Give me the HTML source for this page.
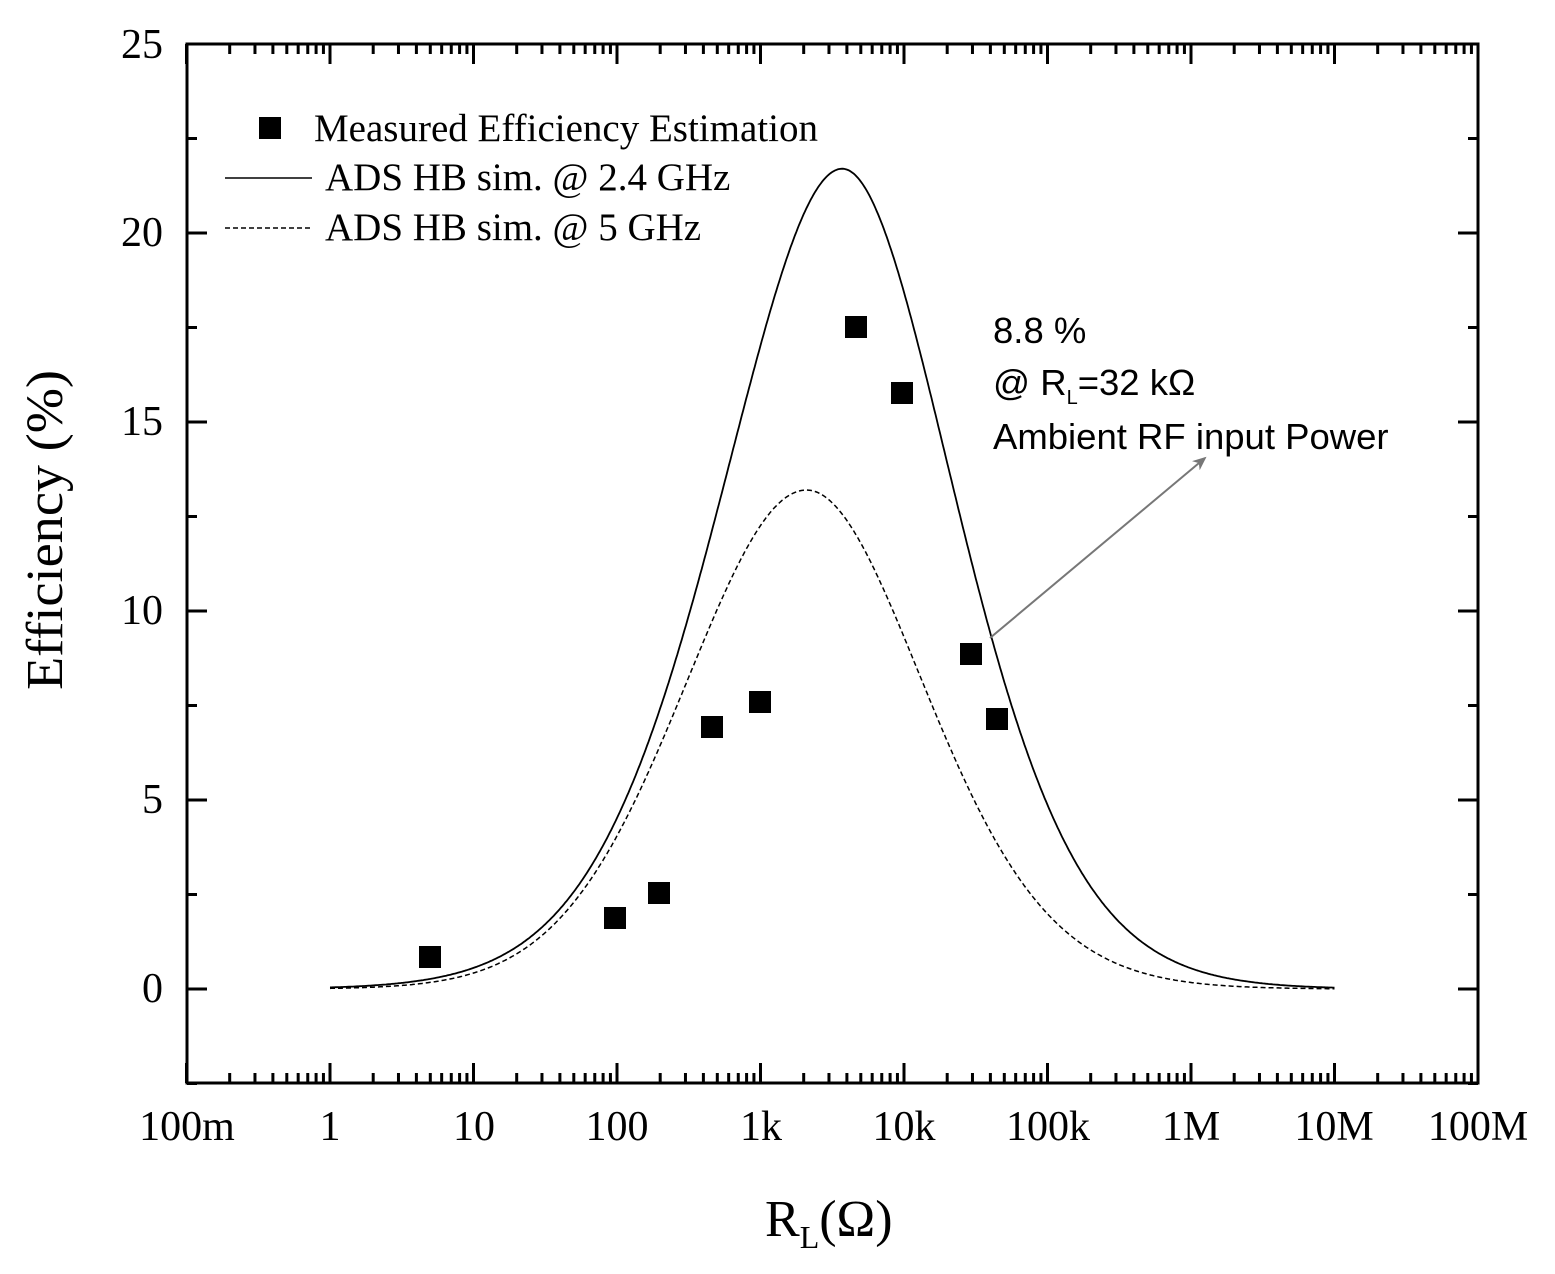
<!DOCTYPE html>
<html><head><meta charset="utf-8"><style>
html,body{margin:0;padding:0;background:#fff;}
svg{display:block;}
.t{font-family:"Liberation Serif",serif;fill:#000;}
.a{font-family:"Liberation Sans",sans-serif;fill:#000;}
</style></head><body>
<svg id="s" width="1555" height="1274" viewBox="0 0 1555 1274" xmlns="http://www.w3.org/2000/svg">
<defs><marker id="ar" markerWidth="14" markerHeight="12" refX="12" refY="6" orient="auto" markerUnits="userSpaceOnUse"><path d="M0,0 L14,6 L0,12 L4,6 z" fill="#777"/></marker></defs>
<g id="ticks" stroke="#000" stroke-width="3"></g>
<rect x="187" y="44" width="1291" height="1039" fill="none" stroke="#000" stroke-width="3"/>
<path id="solid" fill="none" stroke="#000" stroke-width="1.8"/>
<path id="dash" fill="none" stroke="#000" stroke-width="1.5" stroke-dasharray="5,3"/>
<g id="mk" fill="#000"></g>
<g class="t" font-size="42" text-anchor="end">
<text x="163" y="58">25</text><text x="163" y="246">20</text><text x="163" y="435">15</text>
<text x="163" y="624">10</text><text x="163" y="813">5</text><text x="163" y="1002">0</text>
</g>
<g class="t" font-size="42" text-anchor="middle">
<text x="187" y="1140">100m</text><text x="330" y="1140">1</text><text x="474" y="1140">10</text>
<text x="617" y="1140">100</text><text x="761" y="1140">1k</text><text x="904" y="1140">10k</text>
<text x="1048" y="1140">100k</text><text x="1191" y="1140">1M</text><text x="1334" y="1140">10M</text>
<text x="1478" y="1140">100M</text>
</g>
<text class="t" font-size="52" x="765" y="1236">R<tspan font-size="32" dy="12">L</tspan><tspan dy="-12">(Ω)</tspan></text>
<text class="t" font-size="52" transform="translate(62,530) rotate(-90)" text-anchor="middle" textLength="320" lengthAdjust="spacingAndGlyphs">Efficiency (%)</text>
<rect x="259" y="117" width="22" height="22" fill="#000"/>
<text class="t" font-size="39" x="314" y="141">Measured Efficiency Estimation</text>
<line x1="225" y1="178" x2="312" y2="178" stroke="#000" stroke-width="1.6"/>
<text class="t" font-size="39" x="325" y="190">ADS HB sim. @ 2.4 GHz</text>
<line x1="225" y1="228" x2="312" y2="228" stroke="#000" stroke-width="1.4" stroke-dasharray="5,3"/>
<text class="t" font-size="39" x="325" y="240">ADS HB sim. @ 5 GHz</text>
<g class="a" font-size="36.5">
<text x="993" y="343">8.8 %</text>
<text x="993" y="395">@ R<tspan font-size="20" dy="9">L</tspan><tspan dy="-9">=32 kΩ</tspan></text>
<text x="993" y="449">Ambient RF input Power</text>
</g>
<line x1="990" y1="638" x2="1205" y2="458" stroke="#777" stroke-width="2" marker-end="url(#ar)"/>
</svg>
<script>
function X(u){return 330+143.5*u;} function Y(v){return 989-37.8*v;}
var h="";
function L(a,b,c,d){h+='<line x1="'+a+'" y1="'+b+'" x2="'+c+'" y2="'+d+'"/>';}
for(var d=-1;d<=8;d++){var x=X(d);L(x,1083,x,1063);L(x,44,x,64);
 if(d<8)for(var k=2;k<10;k++){var xx=X(d+Math.log10(k));L(xx,1083,xx,1073);L(xx,44,xx,54);}}
for(var v=-2.5;v<=25;v+=2.5){var y=Y(v);var maj=(Math.abs(v%5)<0.01);var l=maj?20:10;L(187,y,187+l,y);L(1478,y,1478-l,y);}
document.getElementById("ticks").innerHTML=h;
function curve(A,u0,cl,bl,cr,br){var p="";for(var u=0;u<=7.0001;u+=0.01){var d=Math.abs(u-u0);var c=u<u0?cl:cr,b=u<u0?bl:br;
 var f=A*Math.exp(-c*d*d/(1+b*d));p+=(p?"L":"M")+X(u).toFixed(1)+","+Y(f).toFixed(1);}return p;}
document.getElementById("solid").setAttribute("d",curve(21.7,3.57,0.829,0.193,0.97,0.229));
document.getElementById("dash").setAttribute("d",curve(13.2,3.32,0.736,0.065,0.824,0.136));
var m=[[430,957],[615,918],[659,893],[712,727],[760,702],[856,327],[902,393],[971,654],[997,719]],g="";
m.forEach(function(p){g+='<rect x="'+(p[0]-11)+'" y="'+(p[1]-11)+'" width="22" height="22"/>';});
document.getElementById("mk").innerHTML=g;
</script>
</body></html>
